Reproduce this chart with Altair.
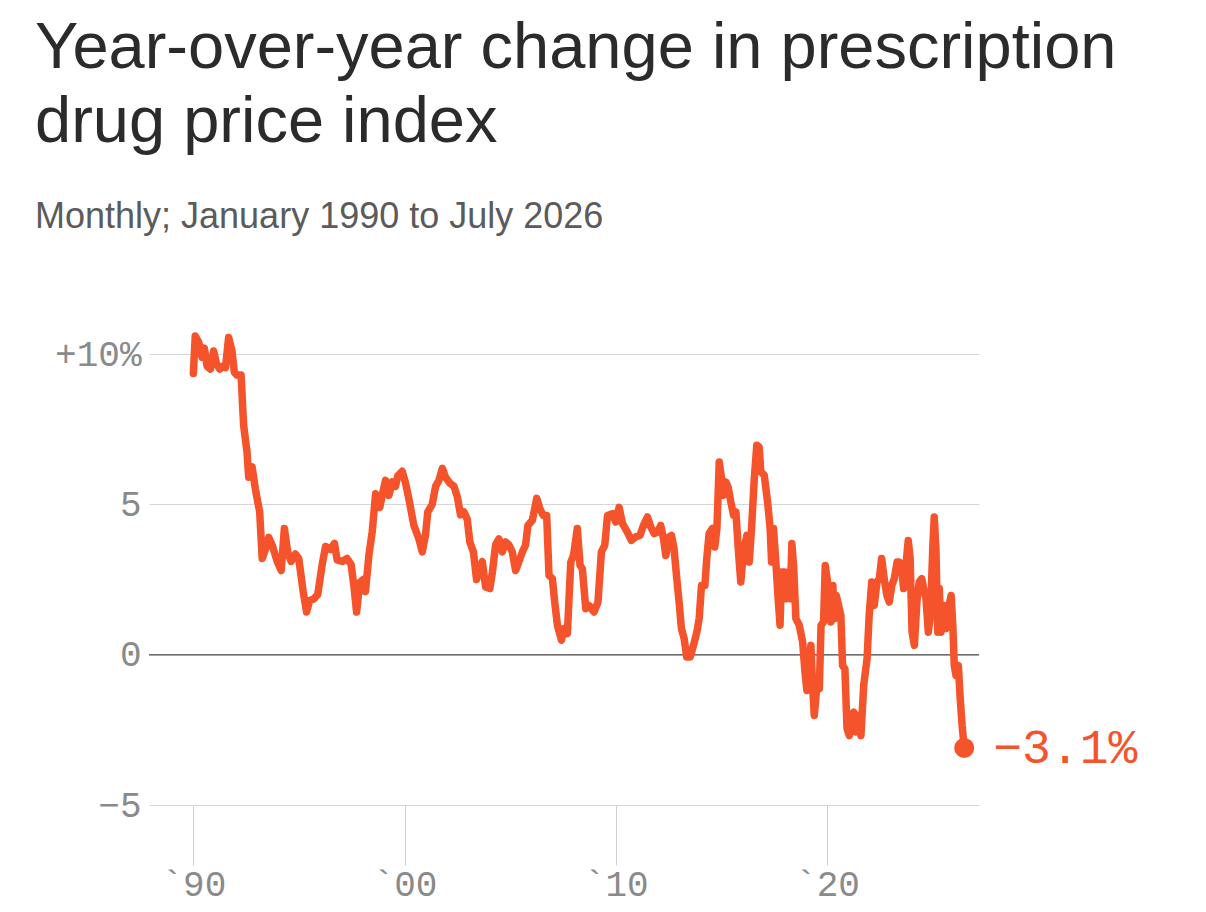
import altair as alt
import pandas as pd

# Year-over-year % change (decimal years)
years = [
    1990.00, 1990.09, 1990.25, 1990.41, 1990.52, 1990.65, 1990.81, 1990.96, 1991.09, 1991.25,
    1991.41, 1991.52, 1991.67, 1991.83, 1991.94, 1992.07, 1992.26, 1992.38, 1992.54, 1992.62,
    1992.78, 1992.94, 1993.14, 1993.26, 1993.41, 1993.57, 1993.73, 1993.97, 1994.16, 1994.31,
    1994.47, 1994.63, 1994.83, 1994.99, 1995.20, 1995.36, 1995.51, 1995.70, 1995.89, 1996.10,
    1996.26, 1996.49, 1996.68, 1996.81, 1997.05, 1997.28, 1997.47, 1997.60, 1997.73, 1997.88,
    1998.04, 1998.15, 1998.31, 1998.47, 1998.63, 1998.83, 1998.94, 1999.10, 1999.26, 1999.42,
    1999.57, 1999.68, 1999.89, 2000.05, 2000.20, 2000.44, 2000.68, 2000.84, 2000.99, 2001.10,
    2001.31, 2001.47, 2001.63, 2001.79, 2001.94, 2002.15, 2002.34, 2002.50, 2002.65, 2002.81,
    2002.97, 2003.09, 2003.26, 2003.41, 2003.57, 2003.68, 2003.84, 2004.04, 2004.16, 2004.31,
    2004.47, 2004.63, 2004.79, 2004.94, 2005.10, 2005.26, 2005.42, 2005.58, 2005.73, 2005.84,
    2006.05, 2006.26, 2006.41, 2006.57, 2006.73, 2006.84, 2007.00, 2007.11, 2007.24, 2007.43,
    2007.55, 2007.71, 2007.87, 2008.00, 2008.18, 2008.31, 2008.42, 2008.58, 2008.73, 2008.97,
    2009.16, 2009.32, 2009.48, 2009.61, 2009.84, 2010.00, 2010.16, 2010.32, 2010.55, 2010.74,
    2010.95, 2011.15, 2011.31, 2011.50, 2011.66, 2011.82, 2011.98, 2012.13, 2012.26, 2012.37,
    2012.53, 2012.64, 2012.76, 2012.89, 2013.00, 2013.11, 2013.24, 2013.36, 2013.52, 2013.68,
    2013.84, 2013.95, 2014.06, 2014.22, 2014.31, 2014.42, 2014.58, 2014.69, 2014.79, 2014.90,
    2015.01, 2015.10, 2015.21, 2015.32, 2015.45, 2015.58, 2015.69, 2015.80, 2015.92, 2016.05,
    2016.21, 2016.32, 2016.43, 2016.56, 2016.68, 2016.79, 2016.87, 2017.03, 2017.19, 2017.31,
    2017.38, 2017.47, 2017.58, 2017.69, 2017.78, 2017.85, 2017.98, 2018.06, 2018.17, 2018.26,
    2018.34, 2018.42, 2018.53, 2018.69, 2018.85, 2018.96, 2019.05, 2019.16, 2019.24, 2019.32,
    2019.40, 2019.53, 2019.64, 2019.72, 2019.84, 2019.92, 2020.03, 2020.11, 2020.19, 2020.28,
    2020.35, 2020.44, 2020.55, 2020.66, 2020.74, 2020.85, 2020.95, 2021.06, 2021.17, 2021.27,
    2021.37, 2021.45, 2021.61, 2021.74, 2021.90, 2022.00, 2022.12, 2022.24, 2022.37, 2022.48,
    2022.59, 2022.71, 2022.84, 2022.95, 2023.07, 2023.19, 2023.32, 2023.43, 2023.54, 2023.63,
    2023.74, 2023.85, 2023.94, 2024.03, 2024.14, 2024.27, 2024.37, 2024.49, 2024.58, 2024.69,
    2024.80, 2024.90, 2025.01, 2025.08, 2025.16, 2025.25, 2025.32, 2025.40, 2025.53, 2025.64,
    2025.75, 2025.88, 2025.96, 2026.03, 2026.11, 2026.22, 2026.31, 2026.40, 2026.50,
]
values = [
    9.35, 10.6, 10.4, 9.9, 10.2, 9.6, 9.5, 10.1, 9.7, 9.5,
    9.6, 9.55, 10.55, 10.1, 9.4, 9.3, 9.3, 7.63, 6.75, 5.9,
    6.25, 5.5, 4.75, 3.2, 3.5, 3.9, 3.65, 3.1, 2.8, 4.2,
    3.4, 3.1, 3.35, 3.2, 2.1, 1.42, 1.8, 1.85, 2.0, 3.0,
    3.6, 3.5, 3.7, 3.15, 3.1, 3.2, 3.0, 2.3, 1.42, 2.4,
    2.5, 2.1, 3.3, 4.1, 5.35, 4.9, 5.3, 5.8, 5.3, 5.75,
    5.6, 5.95, 6.1, 5.7, 5.2, 4.3, 3.85, 3.42, 3.97, 4.75,
    5.0, 5.6, 5.8, 6.2, 5.9, 5.7, 5.6, 5.25, 4.65, 4.75,
    4.5, 3.75, 3.42, 2.5, 2.85, 3.1, 2.25, 2.2, 2.75, 3.65,
    3.85, 3.42, 3.75, 3.65, 3.42, 2.8, 3.1, 3.42, 3.65, 4.3,
    4.47, 5.2, 4.85, 4.63, 4.63, 2.64, 2.53, 1.75, 0.97, 0.48,
    0.87, 0.7, 3.08, 3.3, 4.2, 2.97, 2.86, 1.53, 1.64, 1.42,
    1.75, 3.42, 3.64, 4.63, 4.69, 4.41, 4.9, 4.36, 4.08, 3.8,
    3.92, 3.97, 4.3, 4.58, 4.25, 4.03, 4.08, 4.3, 3.86, 3.3,
    3.92, 3.97, 3.53, 2.53, 1.75, 0.87, 0.53, -0.08, -0.08, 0.31,
    0.75, 1.2, 2.3, 2.3, 3.2, 4.03, 4.2, 3.58, 4.2, 6.41,
    5.86, 5.3, 5.75, 5.58, 5.08, 4.64, 4.75, 3.53, 2.42, 3.42,
    3.97, 3.08, 4.2, 5.86, 6.97, 6.91, 6.08, 5.97, 5.08, 4.2,
    3.08, 4.2, 3.08, 1.86, 0.98, 2.75, 2.75, 1.86, 2.75, 1.86,
    3.7, 2.97, 1.2, 0.98, 0.42, -0.58, -1.19, -0.58, 0.31, -1.02,
    -2.02, -1.02, -1.13, 0.98, 1.09, 2.97, 2.42, 1.97, 1.09, 2.3,
    1.2, 1.97, 1.64, 1.31, -0.36, -0.47, -2.46, -2.69, -2.02, -1.91,
    -2.57, -2.02, -2.69, -1.02, -0.13, 1.31, 2.42, 1.64, 2.42, 2.53,
    3.2, 2.53, 1.97, 1.75, 2.3, 2.53, 3.08, 3.08, 2.86, 2.2,
    2.97, 3.8, 3.2, 0.75, 0.31, 1.86, 2.42, 2.53, 2.2, 1.86,
    0.75, 1.31, 3.53, 4.58, 3.53, 0.75, 2.2, 0.75, 1.64, 0.87,
    1.53, 1.97, 0.98, -0.36, -0.69, -0.36, -1.46, -2.35, -3.1,
]
x_ticks = [1990, 2000, 2010, 2020]
y_ticks = [-5, 0, 5, 10]
zero_line = [0]
end_label = "\u22123.1%"

title_lines = ["Year-over-year change in prescription", "drug price index"]
subtitle_text = "Monthly; January 1990 to July 2026"

ORANGE = "#f4532b"
MONO = "Liberation Mono"
SANS = "Liberation Sans"

df = pd.DataFrame({"year": years, "value": values})
last = df.tail(1).assign(label=end_label)

x_enc = alt.X(
    "year:Q",
    scale=alt.Scale(domain=[1987.9, 2027.2], nice=False, zero=False),
    axis=alt.Axis(
        values=x_ticks,
        labelExpr="'`' + slice(format(datum.value, 'd'), 2)",
        title=None,
        grid=False,
        domain=False,
        tickSize=60,
        tickColor="#cfcfcf",
        tickWidth=1,
        labelFont=MONO,
        labelFontSize=36,
        labelColor="#8a8a8a",
        labelBaseline="alphabetic",
        labelPadding=30,
    ),
)
y_enc = alt.Y(
    "value:Q",
    scale=alt.Scale(domain=[-5, 11], nice=False, zero=False),
    axis=alt.Axis(
        values=y_ticks,
        labelExpr="datum.value == 10 ? '+10%' : (datum.value < 0 ? '\u2212' + format(-datum.value, 'd') : format(datum.value, 'd'))",
        title=None,
        grid=True,
        gridColor="#d6d6d6",
        gridWidth=1,
        domain=False,
        ticks=False,
        labelFont=MONO,
        labelFontSize=36,
        labelColor="#8a8a8a",
        labelPadding=8,
    ),
)

zero = alt.Chart(pd.DataFrame({"value": zero_line})).mark_rule(
    color="#6f6f6f", strokeWidth=1.5
).encode(y="value:Q")

line = alt.Chart(df).mark_line(
    color=ORANGE, strokeWidth=7.5, strokeCap="round", strokeJoin="round"
).encode(x=x_enc, y=y_enc)

dot = alt.Chart(last).mark_circle(size=400, color=ORANGE, opacity=1).encode(
    x="year:Q", y="value:Q"
)

txt = alt.Chart(last).mark_text(
    align="left", baseline="middle", dx=29, dy=1, font=MONO, fontSize=48, color=ORANGE
).encode(x="year:Q", y="value:Q", text="label:N")

chart = (
    alt.layer(zero, line, dot, txt)
    .properties(
        width=830,
        height=481,
        padding={"left": 27, "top": 8, "right": 10, "bottom": 6},
        title=alt.TitleParams(
            text=title_lines,
            subtitle=subtitle_text,
            anchor="start",
            frame="group",
            dx=-114,
            font=SANS,
            fontSize=65,
            fontWeight=400,
            color="#2b2b2b",
            lineHeight=74,
            subtitleFont=SANS,
            subtitleFontSize=36,
            subtitleColor="#5b5b5b",
            subtitlePadding=44,
            offset=88,
        ),
    )
    .configure(background="white", view=alt.ViewConfig(stroke="transparent", strokeWidth=0))
)

chart.save("out.html", embed_options={"renderer": "svg", "actions": False})
